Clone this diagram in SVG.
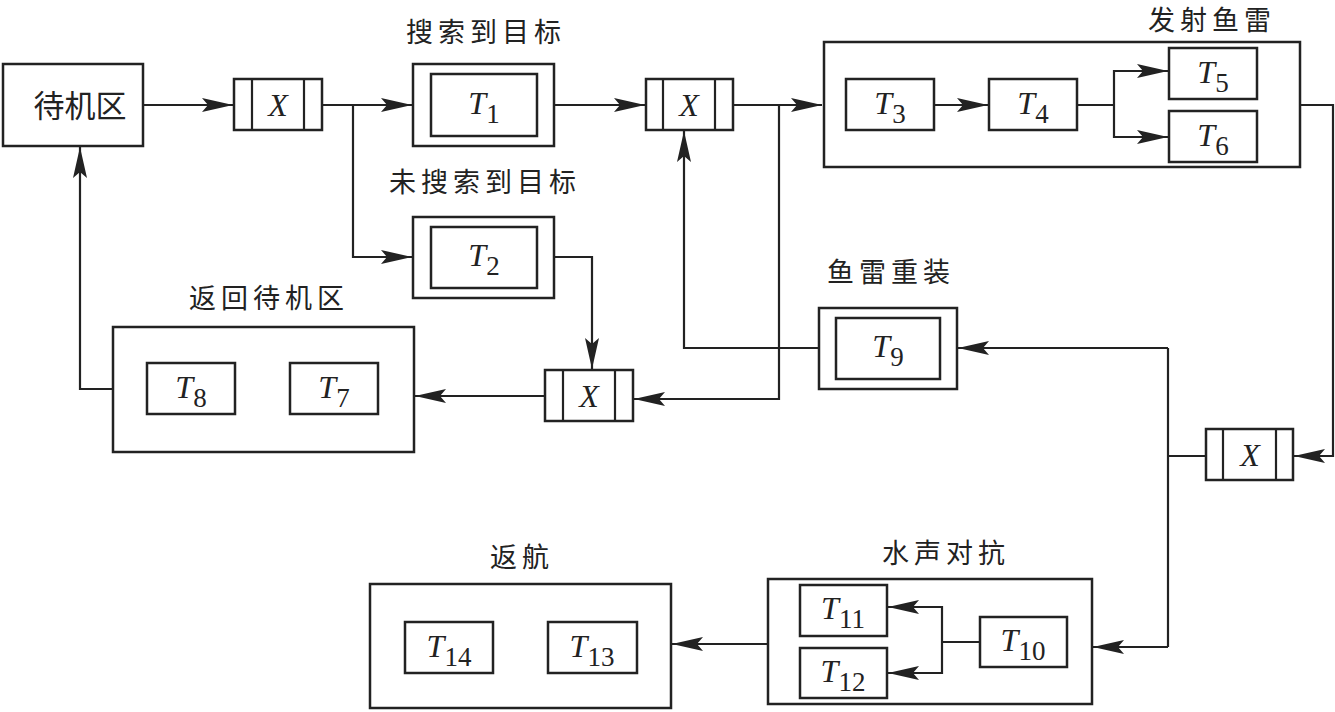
<svg xmlns="http://www.w3.org/2000/svg" width="1335" height="712" viewBox="0 0 1335 712">
<defs>
<style>
.b{fill:#fff;stroke:#222;stroke-width:2.5}
.ln{fill:none;stroke:#222;stroke-width:2.2}
.c{fill:none;stroke:#222;stroke-width:2.2}
.ca{fill:none;stroke:#222;stroke-width:2.2;marker-end:url(#ah)}
.cn{font-family:"Liberation Serif","Noto Sans CJK SC",serif;fill:#222;text-anchor:middle}
.lab{font-size:27px;letter-spacing:5px}
.t{font-family:"Liberation Serif",serif;font-size:32px;fill:#222;text-anchor:middle}
.i{font-style:italic}
.s{font-size:27px;font-style:normal}
</style>
<marker id="ah" viewBox="-31 -7.5 32 15" markerWidth="32" markerHeight="15" refX="0" refY="0" markerUnits="userSpaceOnUse" orient="auto">
<path d="M0,0 L-31,-7 L-25,0 L-31,7 Z" fill="#222"/>
</marker>
</defs>
<rect width="1335" height="712" fill="#fff"/>

<g id="standby">
<rect class="b" x="3" y="64" width="140" height="82"/>
<text class="cn" x="80" y="117" font-size="31">待机区</text>
</g>

<g id="gate1">
<rect class="b" x="234" y="79" width="88" height="51"/>
<path class="ln" d="M252,79 V130 M304,79 V130"/>
<text class="t i" x="278" y="116">X</text>
</g>

<g id="gate2">
<rect class="b" x="646" y="79" width="87" height="51"/>
<path class="ln" d="M663,79 V130 M715,79 V130"/>
<text class="t i" x="689" y="116">X</text>
</g>

<g id="gate3">
<rect class="b" x="1206" y="429" width="87" height="51"/>
<path class="ln" d="M1223,429 V480 M1276,429 V480"/>
<text class="t i" x="1250" y="466">X</text>
</g>

<g id="gate4">
<rect class="b" x="545" y="370" width="88" height="51"/>
<path class="ln" d="M563,370 V421 M615,370 V421"/>
<text class="t i" x="589" y="407">X</text>
</g>

<g id="T1">
<text class="cn lab" x="486" y="42">搜索到目标</text>
<rect class="b" x="413" y="64" width="141" height="82"/>
<rect class="b" x="431" y="74" width="106" height="62"/>
<text class="t" x="484" y="114"><tspan class="i">T</tspan><tspan class="s" dy="9">1</tspan></text>
</g>

<g id="T2">
<text class="cn lab" x="485" y="192">未搜索到目标</text>
<rect class="b" x="413" y="217" width="141" height="81"/>
<rect class="b" x="431" y="227" width="106" height="61"/>
<text class="t" x="484" y="266"><tspan class="i">T</tspan><tspan class="s" dy="9">2</tspan></text>
</g>

<g id="fire">
<text class="cn lab" x="1212" y="30">发射鱼雷</text>
<rect class="b" x="824" y="42" width="476" height="125"/>
<rect class="b" x="846" y="79" width="88" height="51"/>
<text class="t" x="890" y="114"><tspan class="i">T</tspan><tspan class="s" dy="9">3</tspan></text>
<rect class="b" x="989" y="79" width="88" height="51"/>
<text class="t" x="1033" y="114"><tspan class="i">T</tspan><tspan class="s" dy="9">4</tspan></text>
<rect class="b" x="1169" y="48" width="88" height="51"/>
<text class="t" x="1213" y="83"><tspan class="i">T</tspan><tspan class="s" dy="9">5</tspan></text>
<rect class="b" x="1169" y="111" width="88" height="51"/>
<text class="t" x="1213" y="146"><tspan class="i">T</tspan><tspan class="s" dy="9">6</tspan></text>
</g>

<g id="returnStandby">
<text class="cn lab" x="269" y="308">返回待机区</text>
<rect class="b" x="113" y="327" width="301" height="125"/>
<rect class="b" x="147" y="363" width="88" height="51"/>
<text class="t" x="191" y="398"><tspan class="i">T</tspan><tspan class="s" dy="9">8</tspan></text>
<rect class="b" x="290" y="363" width="88" height="51"/>
<text class="t" x="334" y="398"><tspan class="i">T</tspan><tspan class="s" dy="9">7</tspan></text>
</g>

<g id="T9">
<text class="cn lab" x="891" y="282">鱼雷重装</text>
<rect class="b" x="819" y="308" width="138" height="81"/>
<rect class="b" x="836" y="318" width="104" height="61"/>
<text class="t" x="888" y="357"><tspan class="i">T</tspan><tspan class="s" dy="9">9</tspan></text>
</g>

<g id="acoustic">
<text class="cn lab" x="946" y="563">水声对抗</text>
<rect class="b" x="768" y="579" width="324" height="125"/>
<rect class="b" x="800" y="585" width="87" height="51"/>
<text class="t" x="843" y="619"><tspan class="i">T</tspan><tspan class="s" dy="9">11</tspan></text>
<rect class="b" x="800" y="648" width="87" height="50"/>
<text class="t" x="843" y="682"><tspan class="i">T</tspan><tspan class="s" dy="9">12</tspan></text>
<rect class="b" x="980" y="617" width="87" height="50"/>
<text class="t" x="1023" y="651"><tspan class="i">T</tspan><tspan class="s" dy="9">10</tspan></text>
</g>

<g id="returnVoyage">
<text class="cn lab" x="522" y="567">返航</text>
<rect class="b" x="370" y="584" width="301" height="124"/>
<rect class="b" x="405" y="622" width="88" height="51"/>
<text class="t" x="449" y="657"><tspan class="i">T</tspan><tspan class="s" dy="9">14</tspan></text>
<rect class="b" x="548" y="622" width="89" height="51"/>
<text class="t" x="592" y="657"><tspan class="i">T</tspan><tspan class="s" dy="9">13</tspan></text>
</g>

<g id="connectors">
<path class="ca" d="M143,105 H233"/>
<path class="ca" d="M322,105 H412"/>
<path class="ca" d="M353,105 V257 H412"/>
<path class="ca" d="M554,105 H645"/>
<path class="ca" d="M733,105 H822"/>
<path class="ca" d="M779,105 V399 H634"/>
<path class="ca" d="M554,257 H592 V369"/>
<path class="ca" d="M545,396 H415"/>
<path class="ca" d="M113,389 H80 V147"/>
<path class="ca" d="M1300,105 H1333 V456 H1294"/>
<path class="c" d="M1206,456 H1168"/>
<path class="c" d="M1168,348 V647"/>
<path class="ca" d="M1168,348 H958"/>
<path class="ca" d="M1168,647 H1093"/>
<path class="ca" d="M819,348 H684 V131"/>
<path class="ca" d="M768,644 H672"/>
<path class="ca" d="M934,105 H988"/>
<path class="c" d="M1077,105 H1114"/>
<path class="ca" d="M1114,105 V71 H1168"/>
<path class="ca" d="M1114,105 V137 H1168"/>
<path class="c" d="M980,642 H942"/>
<path class="ca" d="M942,642 V607 H888"/>
<path class="ca" d="M942,642 V673 H888"/>
</g>
</svg>
